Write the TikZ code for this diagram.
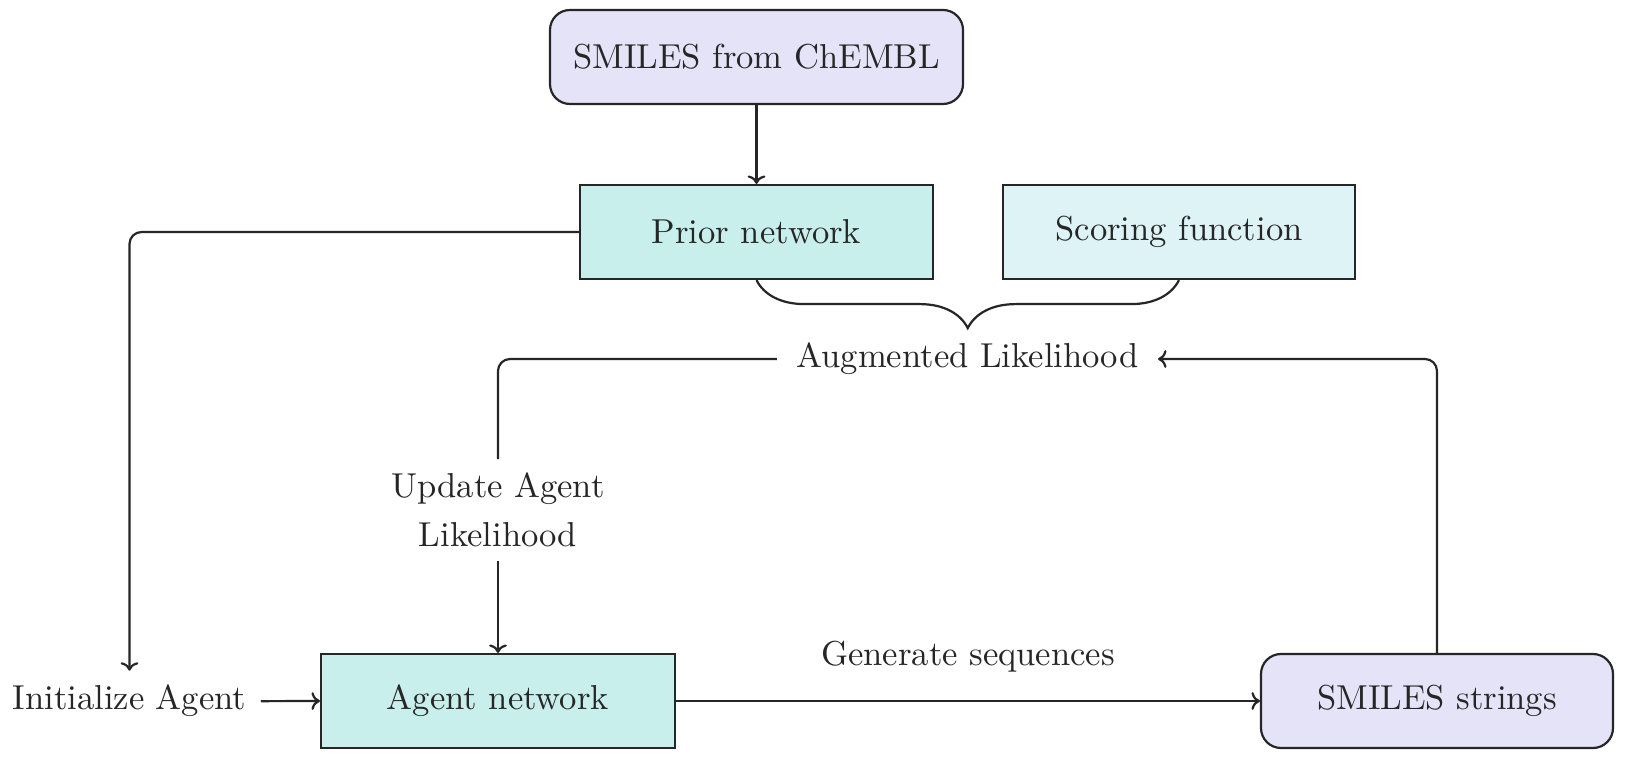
\documentclass[tikz,border=0pt]{standalone}
\usetikzlibrary{decorations.pathreplacing,arrows.meta}
\definecolor{lav}{RGB}{229,227,248}
\definecolor{cyanA}{RGB}{200,239,236}
\definecolor{cyanB}{RGB}{222,243,246}
\definecolor{ink}{RGB}{38,38,38}
\newcommand{\sz}[1]{\scalebox{1.73}{#1}}
\begin{document}
\begin{tikzpicture}[x=0.5pt,y=-0.5pt,
  every node/.style={text=ink},
  tenpt/.style={font=\fontsize{10}{14.16}\selectfont},
  txt/.style={tenpt, scale=1.73},
  box/.style={tenpt, draw=ink, line width=1.1pt, minimum height=47pt, inner sep=0pt},
  smbox/.style={box, fill=lav, rounded corners=10pt},
  netbox/.style={box, fill=cyanA},
  scorebox/.style={box, fill=cyanB},
  conn/.style={draw=ink, line width=1.1pt, -{Computer Modern Rightarrow[scale=1.05]}},
  plain/.style={draw=ink, line width=1.1pt},
  bracedeco/.style={draw=ink, line width=1.1pt, decorate, decoration={brace, mirror, amplitude=24pt}}
]
\useasboundingbox (0,0) rectangle (1630,774);
\fill[white] (0,0) rectangle (1630,774);

\node[smbox, minimum width=206.5pt] (chembl) at (756.5,57) {\sz{SMILES from ChEMBL}};
\node[netbox, minimum width=176.5pt] (prior) at (756.5,232) {\sz{Prior network}};
\node[scorebox, minimum width=176pt] (scoring) at (1179,232) {\sz{Scoring function}};
\node[netbox, minimum width=177pt] (agent) at (498,701) {\sz{Agent network}};
\node[smbox, minimum width=176pt] (strings) at (1437,701) {\sz{SMILES strings}};

\node[txt, anchor=base, inner sep=4pt] (init) at (129.5,710) {Initialize Agent};
\node[txt, inner xsep=5.5pt, inner ysep=2.3pt] (aug) at (967.5,359) {Augmented Likelihood};
\node[txt, align=center, inner xsep=2.3pt, inner ysep=3.8pt] (update) at (498,510) {Update Agent\\Likelihood};
\node[txt, inner sep=1.2pt] (gen) at (968,657) {Generate sequences};

\draw[conn] (chembl.south) -- (prior.north);
\draw[conn, rounded corners=6pt] (prior.west) -| (init.north);
\draw[conn] (init.east) -- (agent.west);
\draw[conn] (agent.east) -- (strings.west);
\draw[conn, rounded corners=6pt] (strings.north) |- (aug.east);
\draw[plain, rounded corners=6pt] (aug.west) -| (update.north);
\draw[conn] (update.south) -- (agent.north);
\draw[bracedeco] (prior.south) -- (scoring.south);
\end{tikzpicture}
\end{document}
